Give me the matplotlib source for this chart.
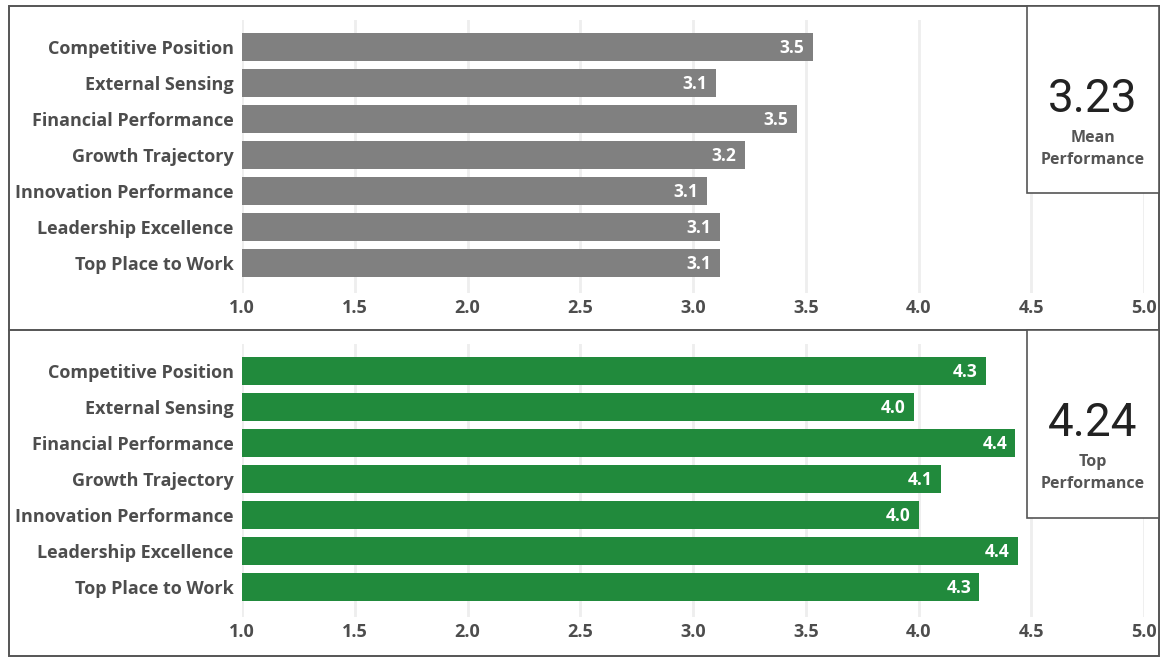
import matplotlib
matplotlib.use("Agg")
import matplotlib.pyplot as plt
from matplotlib.patches import Rectangle
from matplotlib.lines import Line2D

categories = ["Competitive Position", "External Sensing", "Financial Performance",
              "Growth Trajectory", "Innovation Performance", "Leadership Excellence",
              "Top Place to Work"]
mean_scores = [3.53, 3.10, 3.46, 3.23, 3.06, 3.12, 3.12]
top_scores = [4.30, 3.98, 4.43, 4.10, 4.00, 4.44, 4.27]
x_ticks = [1.0, 1.5, 2.0, 2.5, 3.0, 3.5, 4.0, 4.5, 5.0]
kpi_values = [3.23, 4.24]
kpi_labels = ["Mean\nPerformance", "Top\nPerformance"]

W, H = 1173, 664
fig = plt.figure(figsize=(W / 100, H / 100), dpi=100)
fig.patch.set_facecolor("white")

FONT = "Open Sans"
WEIGHT = "bold"
LABEL_COL = "#4d4d4d"


def rect(l, t, r, b):
    return [l / W, 1 - b / H, (r - l) / W, (b - t) / H]


def draw_panel(top_px, values, color):
    ax_top = top_px + 14
    ax_bot = top_px + 287
    ax = fig.add_axes(rect(242, ax_top, 1144, ax_bot))
    first_row = top_px + 41
    step = 36
    y_top = (ax_top - first_row) / step
    y_bot = (ax_bot - first_row) / step
    ypos = list(range(len(categories)))
    ax.barh(ypos, [v - 1.0 for v in values], left=1.0, height=0.78,
            color=color, zorder=2)
    ax.set_xlim(1.0, 5.0)
    ax.set_ylim(y_bot, y_top)
    ax.set_yticks(ypos)
    ax.set_yticklabels(categories, fontsize=13, fontweight=WEIGHT,
                       color=LABEL_COL, family=FONT)
    ax.set_xticks(x_ticks)
    ax.set_xticklabels([f"{t:.1f}" for t in x_ticks], fontsize=13,
                       fontweight=WEIGHT, color=LABEL_COL, family=FONT)
    ax.tick_params(axis="both", length=0)
    ax.tick_params(axis="y", pad=6)
    ax.tick_params(axis="x", pad=4)
    ax.grid(axis="x", color="#eeeeee", linewidth=2, zorder=0)
    ax.set_axisbelow(True)
    for s in ax.spines.values():
        s.set_visible(False)
    ax.patch.set_alpha(0)
    for y, v in zip(ypos, values):
        ax.annotate(f"{v:.1f}", xy=(v, y), xytext=(-6, -1),
                    textcoords="offset points", ha="right", va="center",
                    fontsize=12.5, fontweight="bold", color="white", family=FONT,
                    zorder=3)
    return ax


draw_panel(6, mean_scores, "#808080")
draw_panel(330, top_scores, "#218a3c")

# KPI boxes
for i, (top, bot) in enumerate([(6, 193), (330, 518)]):
    fig.add_artist(Rectangle(((1027) / W, 1 - bot / H), (1159 - 1027) / W,
                             (bot - top) / H, transform=fig.transFigure,
                             facecolor="white", edgecolor="#555555",
                             linewidth=1.2, zorder=5))
    cy = top + 93
    fig.text(1093 / W, 1 - cy / H, f"{kpi_values[i]:.2f}", ha="center",
             va="center", fontsize=33, color="#222222", family="Roboto",
             zorder=6)
    fig.text(1093 / W, 1 - (top + 143) / H, kpi_labels[i], ha="center",
             va="center", fontsize=11.5, fontweight=WEIGHT, color="#555555",
             family=FONT, linespacing=1.5, zorder=6)

# outer border and divider
fig.add_artist(Rectangle((9 / W, 1 - 656 / H), (1159 - 9) / W, (656 - 6) / H,
                         transform=fig.transFigure, facecolor="none",
                         edgecolor="#555555", linewidth=1.4, zorder=4))
fig.add_artist(Line2D([9 / W, 1159 / W], [1 - 330 / H, 1 - 330 / H],
                      transform=fig.transFigure, color="#555555",
                      linewidth=1.4, zorder=4))

fig.savefig("out.png", dpi=100)
